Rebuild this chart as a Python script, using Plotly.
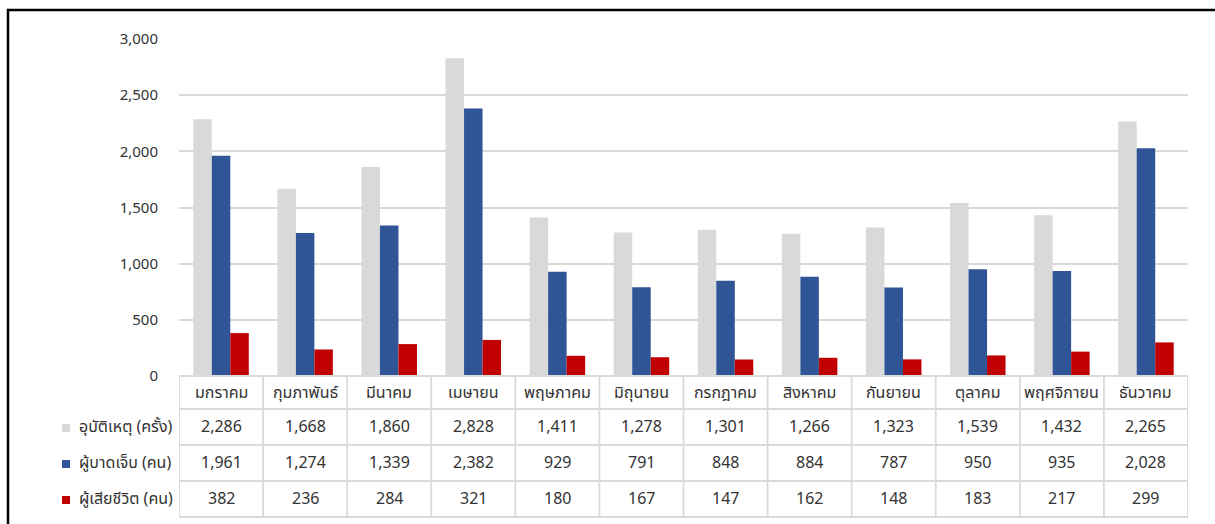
import plotly.graph_objects as go

# Monthly road-accident statistics
months = ["มกราคม", "กุมภาพันธ์", "มีนาคม", "เมษายน", "พฤษภาคม", "มิถุนายน",
          "กรกฎาคม", "สิงหาคม", "กันยายน", "ตุลาคม", "พฤศจิกายน", "ธันวาคม"]
accidents = [2286, 1668, 1860, 2828, 1411, 1278, 1301, 1266, 1323, 1539, 1432, 2265]
injured = [1961, 1274, 1339, 2382, 929, 791, 848, 884, 787, 950, 935, 2028]
deaths = [382, 236, 284, 321, 180, 167, 147, 162, 148, 183, 217, 299]

series_names = ["อุบัติเหตุ (ครั้ง)", "ผู้บาดเจ็บ (คน)", "ผู้เสียชีวิต (คน)"]
series_values = [accidents, injured, deaths]
series_colors = ["#D9D9D9", "#2F5597", "#C00000"]
y_ticks = [0, 500, 1000, 1500, 2000, 2500, 3000]

FONT = "Tahoma, 'Noto Sans Thai', 'Leelawadee UI', 'Noto Sans', sans-serif"
TEXT = "#333333"
GRID = "#D9D9D9"

W, H = 1215, 524
L, R, T, B = 179, 1188, 39, 376  # plot area in pixels


def px_x(px):
    return (px - L) / (R - L)


def px_y(py):
    return (B - py) / (B - T)


xs = list(range(len(months)))

fig = go.Figure()
for name, vals, col in zip(series_names, series_values, series_colors):
    fig.add_trace(go.Bar(x=xs, y=vals, name=name, marker=dict(color=col, line=dict(width=0)),
                         showlegend=False))

shapes = []
annotations = []

# Data table under the axis
header_top, header_bot = 376, 409
row_edges = [409, 445, 481, 517]
line = dict(color="#DADADA", width=1.8)

shapes.append(dict(type="line", xref="paper", yref="paper", x0=0, x1=1,
                   y0=px_y(header_top), y1=px_y(header_top), line=line))
for py in row_edges:
    shapes.append(dict(type="line", xref="x", yref="paper", x0=-2.0, x1=len(months) - 0.5,
                       y0=px_y(py), y1=px_y(py), line=line))
shapes.append(dict(type="line", xref="x", yref="paper", x0=-2.0, x1=-2.0,
                   y0=px_y(row_edges[0]), y1=px_y(row_edges[-1]), line=line))
for i in range(len(months) + 1):
    shapes.append(dict(type="line", xref="x", yref="paper", x0=i - 0.5, x1=i - 0.5,
                       y0=px_y(header_top), y1=px_y(row_edges[-1]), line=line))

cell_font = dict(family=FONT, size=16, color=TEXT)

for i, m in enumerate(months):
    annotations.append(dict(x=i, y=px_y((header_top + header_bot) / 2), xref="x", yref="paper",
                            text=m, showarrow=False, xanchor="center", yanchor="middle",
                            font=cell_font))

for r, (name, vals, col) in enumerate(zip(series_names, series_values, series_colors)):
    yc = (row_edges[r] + row_edges[r + 1]) / 2
    shapes.append(dict(type="rect", xref="paper", yref="paper", x0=px_x(62), x1=px_x(70),
                       y0=px_y(yc - 3), y1=px_y(yc + 5), fillcolor=col,
                       line=dict(width=0)))
    annotations.append(dict(x=px_x(77), y=px_y(yc), xref="paper", yref="paper", text=name,
                            showarrow=False, xanchor="left", yanchor="middle",
                            font=cell_font))
    for i, v in enumerate(vals):
        annotations.append(dict(x=i, y=px_y(yc), xref="x", yref="paper", text=f"{v:,}",
                                showarrow=False, xanchor="center", yanchor="middle",
                                font=cell_font))

# Outer frame (left and top edges)
shapes.append(dict(type="line", xref="paper", yref="paper", x0=px_x(8), x1=px_x(8),
                   y0=px_y(9), y1=px_y(H + 5), line=dict(color="#000000", width=2.5)))
shapes.append(dict(type="line", xref="paper", yref="paper", x0=px_x(7), x1=px_x(W + 5),
                   y0=px_y(10), y1=px_y(10), line=dict(color="#000000", width=2.5)))

fig.update_layout(
    width=W, height=H,
    margin=dict(l=L, r=W - R, t=T, b=H - B, pad=0),
    paper_bgcolor="white", plot_bgcolor="white",
    barmode="group", bargap=0.34, bargroupgap=0,
    shapes=shapes, annotations=annotations,
    font=dict(family=FONT, size=15, color=TEXT),
    xaxis=dict(range=[-0.5, len(months) - 0.5], showticklabels=False, showgrid=False,
               zeroline=False, showline=False, ticks=""),
    yaxis=dict(range=[0, 3000], tickvals=y_ticks, ticktext=[f"{v:,}" for v in y_ticks],
               showgrid=True, gridcolor=GRID, gridwidth=2, zeroline=False, showline=False,
               ticks="", ticklabelstandoff=20,
               tickfont=dict(family=FONT, size=15, color=TEXT)),
)

fig.write_html("out.html")
